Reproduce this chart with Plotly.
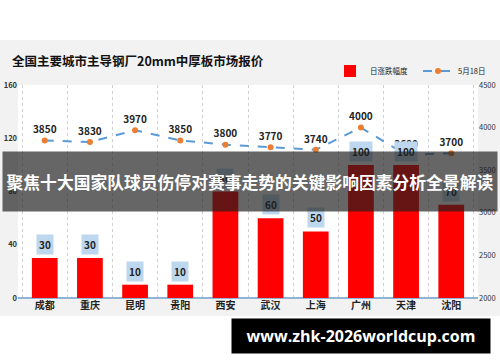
import plotly.graph_objects as go

cities = ["成都", "重庆", "昆明", "贵阳", "西安", "武汉", "上海", "广州", "天津", "沈阳"]
change = [30, 30, 10, 10, 80, 60, 50, 100, 100, 70]
price = [3850, 3830, 3970, 3850, 3800, 3770, 3740, 4000, 3680, 3700]
left_ticks = [0, 40, 80, 120, 160]
right_ticks = [2000, 2500, 3000, 3500, 4000, 4500]

W, H = 500, 362
L, R, T, B = 18, 478, 85, 298  # plot area in pixels


def px(x):
    return (x - L) / (R - L)


def py(y):
    return (B - y) / (B - T)


font_cjk = "Noto Sans CJK SC, Noto Sans, sans-serif"

fig = go.Figure()
fig.add_trace(go.Bar(
    x=cities, y=change, name="日涨跌幅度",
    marker=dict(color="#ff0000", line=dict(width=0)),
    yaxis="y", cliponaxis=False,
))
fig.add_trace(go.Scatter(
    x=cities, y=price, name="5月18日", yaxis="y2",
    mode="lines+markers+text",
    line=dict(color="#5b9bd5", width=2, dash="dash"),
    marker=dict(color="#ed7d31", size=6),
    text=[str(v) for v in price], textposition="top center",
    textfont=dict(size=10, color="#222", family=font_cjk, weight="bold"),
    cliponaxis=False,
))

annotations = [
    dict(text="<b>全国主要城市主导钢厂20mm中厚板市场报价</b>", x=px(10), y=py(60),
         xref="paper", yref="paper", xanchor="left", yanchor="middle", showarrow=False,
         font=dict(size=12.5, color="#111", family=font_cjk)),
]
for c, v in zip(cities, change):
    annotations.append(dict(
        text="<b>%d</b>" % v, x=c, y=v, xref="x", yref="y", yanchor="bottom",
        yshift=3, showarrow=False, bgcolor="#bdd7ee", borderpad=2,
        font=dict(size=10, color="#222", family=font_cjk)))

# overlay band (drawn as an annotation so it covers the labels beneath it)
annotations.append(dict(
    text="<b>聚焦十大国家队球员伤停对赛事走势的关键影响因素分析全景解读</b>",
    x=px(250), y=py(181.5), xref="paper", yref="paper", showarrow=False,
    xanchor="center", yanchor="middle", width=494, height=59, borderpad=0,
    bgcolor="rgba(30,30,30,0.68)", align="center", valign="middle",
    font=dict(size=16.8, color="white", family=font_cjk)))
annotations.append(dict(
    text="<b>www.zhk-2026worldcup.com</b>",
    x=px(361), y=py(336), xref="paper", yref="paper", showarrow=False,
    xanchor="center", yanchor="middle", width=258, height=34, borderpad=0,
    bgcolor="black", align="center", valign="middle",
    font=dict(size=16, color="white", family="Open Sans, Noto Sans, sans-serif")))

shapes = [
    dict(type="rect", xref="paper", yref="paper", x0=px(0), x1=px(500), y0=py(316), y1=py(40),
         fillcolor="#f2f2f2", line=dict(width=0), layer="below"),
    dict(type="rect", xref="paper", yref="paper", x0=0, x1=1, y0=0, y1=1,
         fillcolor="white", line=dict(width=0), layer="below"),
]

fig.update_layout(
    width=W, height=H,
    margin=dict(l=L, r=W - R, t=T, b=H - B, autoexpand=False),
    paper_bgcolor="white", plot_bgcolor="rgba(0,0,0,0)",
    bargap=0.43,
    showlegend=True,
    legend=dict(orientation="h", x=px(330), y=py(71), xanchor="left", yanchor="middle",
                font=dict(size=7.5, color="#222", family=font_cjk), bgcolor="rgba(0,0,0,0)",
                entrywidth=43, itemwidth=30, tracegroupgap=0),
    xaxis=dict(type="category", tickson="boundaries", automargin=False,
               showgrid=True, griddash="dot", gridcolor="#d0d0d0", gridwidth=1,
               showline=False, ticks="", zeroline=False,
               tickfont=dict(size=10, color="#222", family=font_cjk, weight="bold")),
    yaxis=dict(range=[0, 160], tickvals=left_ticks, automargin=False,
               showgrid=False, zeroline=True, zerolinecolor="#8fb4d6", zerolinewidth=2,
               showline=False, ticks="",
               tickfont=dict(size=7.5, color="#333", family=font_cjk, weight="bold")),
    yaxis2=dict(overlaying="y", side="right", range=[2000, 4500], tickvals=right_ticks,
                automargin=False,
                showgrid=False, zeroline=False, showline=False, ticks="",
                tickfont=dict(size=7.5, color="#333", family=font_cjk)),
    annotations=annotations,
    shapes=shapes,
)

fig.write_html("out.html", config={"displayModeBar": False},
               post_script="document.body.style.margin='0';")
